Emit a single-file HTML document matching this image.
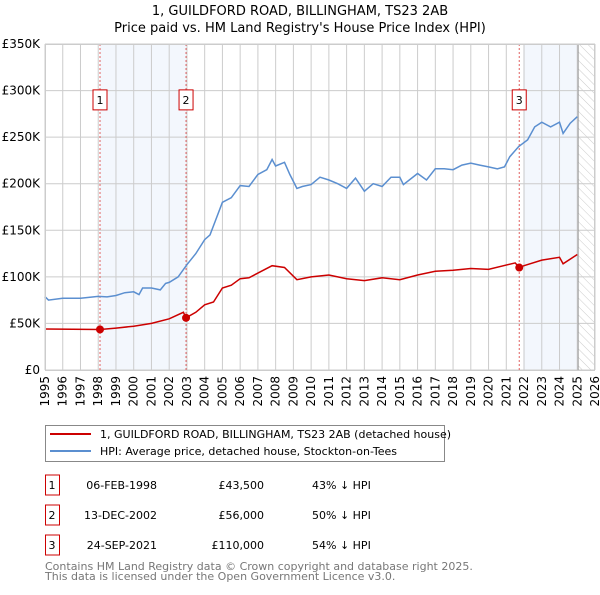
<!DOCTYPE html>
<html><head><meta charset="utf-8"><style>
body{margin:0;background:#fff;}
svg text{font-family:"DejaVu Sans","Liberation Sans",sans-serif;}
</style></head><body>
<svg id="c" width="600" height="590" xmlns="http://www.w3.org/2000/svg">
<defs><pattern id="hatch" width="6" height="6" patternUnits="userSpaceOnUse" patternTransform="rotate(-45)"><line x1="0" y1="0" x2="0" y2="6" stroke="#ccc" stroke-width="1"/></pattern></defs>
<text x="300" y="15" text-anchor="middle" font-size="13">1, GUILDFORD ROAD, BILLINGHAM, TS23 2AB</text>
<text x="300" y="32" text-anchor="middle" font-size="13">Price paid vs. HM Land Registry's House Price Index (HPI)</text>
<g id="plot"></g>
<g>
<rect x="45.5" y="425.5" width="399" height="36" fill="#fff" stroke="#888"/>
<line x1="50" y1="434" x2="91" y2="434" stroke="#cc0000" stroke-width="2"/>
<text x="100" y="438" font-size="11">1, GUILDFORD ROAD, BILLINGHAM, TS23 2AB (detached house)</text>
<line x1="50" y1="451" x2="91" y2="451" stroke="#5b8fd0" stroke-width="2"/>
<text x="100" y="455" font-size="11">HPI: Average price, detached house, Stockton-on-Tees</text>
</g>
<g id="table"></g>
<text x="45" y="570" font-size="11" fill="#777">Contains HM Land Registry data © Crown copyright and database right 2025.</text>
<text x="45" y="580" font-size="11" fill="#777">This data is licensed under the Open Government Licence v3.0.</text>
</svg>
<script>
const hpiYears=[1995,1995.2,1996,1997,1998,1998.5,1999,1999.5,2000,2000.3,2000.5,2001,2001.5,2001.8,2002,2002.5,2003,2003.5,2004,2004.3,2004.6,2005,2005.5,2006,2006.5,2007,2007.5,2007.8,2008,2008.5,2008.8,2009.2,2009.5,2010,2010.5,2011,2011.5,2012,2012.5,2013,2013.5,2014,2014.5,2015,2015.2,2016,2016.5,2017,2017.5,2018,2018.5,2019,2019.5,2020,2020.5,2020.9,2021.2,2021.7,2022.2,2022.6,2023,2023.5,2024,2024.2,2024.6,2025];
const hpiValues=[78.7,75,77,77,79,78.5,80,83,84,81,88,88,86,93,94,100,113,125,140,145,160,180,185,198,197,210,215,226,219,223,210,195,197,199,207,204,200,195,206,192,200,197,207,207,199,211,204,216,216,215,220,222,220,218,216,218,229,240,247,261,266,261,266,254,265,272];
const ppYears=[1995,1998.1,1999,2000,2001,2002,2002.8,2002.95,2003.5,2004,2004.5,2005,2005.5,2006,2006.5,2007,2007.8,2008.5,2009.2,2010,2011,2012,2013,2014,2015,2016,2017,2018,2019,2020,2021.5,2021.73,2022,2023,2024,2024.2,2025];
const ppValues=[44,43.5,45,47,50,55,62,56,62,70,73,88,91,98,99,104,112,110,97,100,102,98,96,99,97,102,106,107,109,108,115,110,112,118,121,114,124];
const saleYears=[1998.1,2002.95,2021.73];
const saleValues=[43.5,56,110];
const saleLabels=["1","2","3"];
const saleDates=["06-FEB-1998","13-DEC-2002","24-SEP-2021"];
const salePrices=["£43,500","£56,000","£110,000"];
const saleDiffs=["43% ↓ HPI","50% ↓ HPI","54% ↓ HPI"];
const yTicks=[0,50,100,150,200,250,300,350];
const yTickLabels=["£0","£50K","£100K","£150K","£200K","£250K","£300K","£350K"];
const xTicks=[1995,1996,1997,1998,1999,2000,2001,2002,2003,2004,2005,2006,2007,2008,2009,2010,2011,2012,2013,2014,2015,2016,2017,2018,2019,2020,2021,2022,2023,2024,2025,2026];

const NS="http://www.w3.org/2000/svg";
const X0=45,X1=595,Y0=370,Y1=44;
const sx=v=>X0+(v-1995)/(2026-1995)*(X1-X0);
const sy=v=>Y0-v/350*(Y0-Y1);
const plot=document.getElementById('plot');
function mk(tag,attrs,parent){const e=document.createElementNS(NS,tag);for(const k in attrs)e.setAttribute(k,attrs[k]);(parent||plot).appendChild(e);return e;}
// shaded
let r=mk('rect',{x:sx(1998.1),y:Y1,width:sx(2002.95)-sx(1998.1),height:Y0-Y1,fill:'#eef3fc',opacity:0.7});


r=mk('rect',{x:sx(2021.95),y:Y1,width:sx(2025.05)-sx(2021.95),height:Y0-Y1,fill:'#eef3fc',opacity:0.7});


r=mk('rect',{x:sx(2025.05),y:Y1,width:X1-sx(2025.05),height:Y0-Y1,fill:'url(#hatch)'});


// grid
xTicks.forEach((t,i)=>{
 const l=mk('line',{x1:sx(t),x2:sx(t),y1:Y1,y2:Y0,stroke:'#ccc','stroke-width':1});
 
 
 const tx=mk('text',{x:0,y:0,'font-size':12,'text-anchor':'end',transform:`translate(${sx(t)+4},${Y0+6}) rotate(-90)`});
 tx.textContent=t;
 
 
});
yTicks.forEach((t,i)=>{
 const l=mk('line',{x1:X0,x2:X1,y1:sy(t),y2:sy(t),stroke:'#ccc','stroke-width':1});
 
 
 const tx=mk('text',{x:X0-5,y:sy(t)+4,'font-size':12,'text-anchor':'end'});
 tx.textContent=yTickLabels[i];
 
 
});
const nowL=mk('line',{x1:sx(2025.05),x2:sx(2025.05),y1:Y1,y2:Y0,stroke:'#999','stroke-width':1});


// sale vlines
saleYears.forEach((y,i)=>{
 const l=mk('line',{x1:sx(y),x2:sx(y),y1:Y1,y2:Y0,stroke:'#e06060','stroke-width':1,'stroke-dasharray':'2,2'});
 
 
 const b=mk('rect',{x:sx(y)-7,y:sy(290)-10,width:14,height:20,fill:'#fff',stroke:'#cc0000'});
 
 
 const t=mk('text',{x:sx(y),y:sy(290)+4,'font-size':11,'text-anchor':'middle'});
 t.textContent=saleLabels[i];
 
 
});
const path=(xs,vs)=>xs.map((x,i)=>(i?'L':'M')+sx(x).toFixed(1)+','+sy(vs[i]).toFixed(1)).join('');
const hp=mk('path',{d:path(hpiYears,hpiValues),fill:'none',stroke:'#5b8fd0','stroke-width':1.5});


const pp=mk('path',{d:path(ppYears,ppValues),fill:'none',stroke:'#cc0000','stroke-width':1.5});


saleYears.forEach((y,i)=>{
 const c=mk('circle',{cx:sx(y),cy:sy(saleValues[i]),r:4,fill:'#cc0000'});
 
 
});
const ax=mk('rect',{x:X0+0.5,y:Y1+0.5,width:X1-X0-1,height:Y0-Y1,fill:'none',stroke:'#ccc'});


// table
const tb=document.getElementById('table');
saleLabels.forEach((s,i)=>{
 const yy=[485,515,545][i];
 const b=mk('rect',{x:45.5,y:yy-10,width:14,height:20,fill:'#fff',stroke:'#cc0000'},tb);
 
 
 const cols=[[52,s,'middle'],[157,saleDates[i],'end'],[264,salePrices[i],'end'],[312,saleDiffs[i],'start']];
 cols.forEach(c=>{
  const t=mk('text',{x:c[0],y:yy+4,'font-size':11,'text-anchor':c[2]},tb);
  t.textContent=c[1];
  
  
 });
});
</script>
</body></html>
